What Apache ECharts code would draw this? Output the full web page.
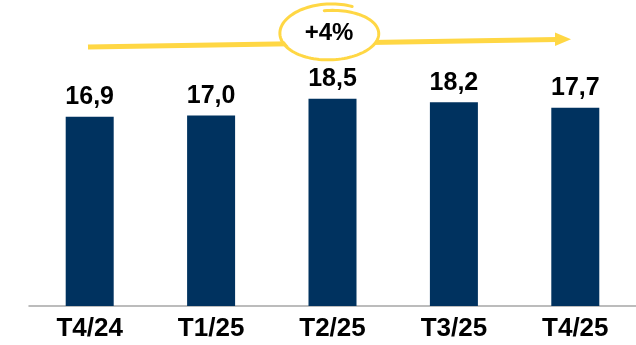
<!DOCTYPE html>
<html>
<head>
<meta charset="utf-8">
<script src="https://cdn.jsdelivr.net/npm/echarts@6/dist/echarts.min.js"></script>
<style>
  html, body { margin: 0; padding: 0; background: #ffffff; }
  #chart { width: 636px; height: 345px; }
</style>
</head>
<body>
<div id="chart"></div>
<script>
// Quarterly values (comma decimal labels)
const quarters = ['T4/24', 'T1/25', 'T2/25', 'T3/25', 'T4/25'];
const values = [16.9, 17.0, 18.5, 18.2, 17.7];
const growthLabel = '+4%';

const NAVY = '#00325F';
const YELLOW = '#FFD744';
const FONT = '"Liberation Sans", Arial, sans-serif';

// Hand-drawn loop around the growth label: a little more than one turn,
// widening slightly as it goes so the ends overlap at the top.
function loopPoints(cx, cy) {
  const pts = [];
  const a0 = -Math.PI / 2 - 0.12;
  const a1 = 1.5 * Math.PI + 0.45;
  const n = 120;
  for (let i = 0; i <= n; i++) {
    const t = i / n;
    const a = a0 + (a1 - a0) * t;
    const rx = 48 + 3 * t;
    const ry = 23 + 7 * t;
    pts.push([cx + rx * Math.cos(a), cy + ry * Math.sin(a)]);
  }
  return pts;
}

const chart = echarts.init(document.getElementById('chart'), null, { renderer: 'canvas' });

chart.setOption({
  animation: false,
  backgroundColor: '#ffffff',
  grid: { left: 29, right: 0, top: 26, bottom: 39, containLabel: false },
  xAxis: {
    type: 'category',
    data: quarters,
    axisLine: { show: true, lineStyle: { color: '#A6A6A6', width: 1.5 } },
    axisTick: { show: false },
    axisLabel: {
      color: '#000000',
      fontFamily: FONT,
      fontWeight: 'bold',
      fontSize: 26,
      margin: 10
    }
  },
  yAxis: {
    type: 'value',
    min: 0,
    max: 25,
    show: false,
    splitLine: { show: false }
  },
  series: [{
    type: 'bar',
    data: values,
    barWidth: 48,
    itemStyle: { color: NAVY },
    label: {
      show: true,
      position: 'top',
      distance: 7,
      color: '#000000',
      fontFamily: FONT,
      fontWeight: 'bold',
      fontSize: 25,
      formatter: p => p.value.toFixed(1).replace('.', ',')
    }
  }],
  graphic: [
    // trend arrow shaft
    {
      type: 'line',
      shape: { x1: 88, y1: 47, x2: 557, y2: 39.5 },
      style: { stroke: YELLOW, lineWidth: 5 },
      z: 10
    },
    // arrow head
    {
      type: 'polygon',
      shape: { points: [[555, 32.5], [571, 39.2], [555, 46]] },
      style: { fill: YELLOW },
      z: 10
    },
    // white interior of the loop hides the shaft behind the label
    {
      type: 'ellipse',
      shape: { cx: 330, cy: 33, rx: 48, ry: 26 },
      style: { fill: '#ffffff' },
      z: 11
    },
    {
      type: 'polyline',
      shape: { points: loopPoints(330, 33.5) },
      style: { stroke: YELLOW, lineWidth: 3, fill: null, lineCap: 'round' },
      z: 12
    },
    {
      type: 'text',
      x: 329,
      y: 33,
      style: {
        text: growthLabel,
        fill: '#000000',
        font: 'bold 24px ' + FONT,
        align: 'center',
        verticalAlign: 'middle'
      },
      z: 13
    }
  ]
});
</script>
</body>
</html>
